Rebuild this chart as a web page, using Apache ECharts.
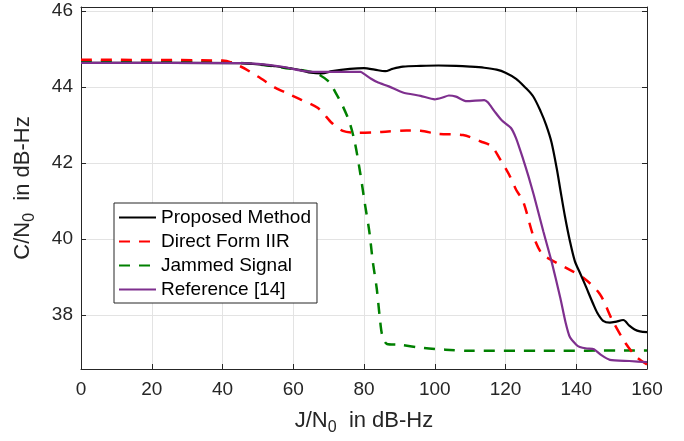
<!DOCTYPE html>
<html>
<head>
<meta charset="utf-8">
<script src="https://cdn.jsdelivr.net/npm/echarts@6/dist/echarts.min.js"></script>
<style>
html,body{margin:0;padding:0;background:#fff;}
#c{width:684px;height:441px;}
</style>
</head>
<body>
<div id="c"></div>
<script>
var seriesNames = ['Proposed Method', 'Direct Form IIR', 'Jammed Signal', 'Reference [14]'];
var xTicks = [0, 20, 40, 60, 80, 100, 120, 140, 160];
var yTicks = [38, 40, 42, 44, 46];

var proposedX = [0, 45, 55, 62, 65, 68, 71, 76, 80, 83, 86, 88, 91, 96, 101, 106, 110, 114, 117.5, 120, 123, 125.5, 127.8, 130, 131.5, 133, 134.5, 135.5, 136.8, 138.2, 139.6, 141, 142.5, 144.8, 146, 147.6, 149.5, 151, 153.3, 155, 156.5, 158, 160];
var proposedY = [44.64, 44.63, 44.55, 44.45, 44.38, 44.36, 44.42, 44.48, 44.5, 44.46, 44.42, 44.48, 44.54, 44.56, 44.57, 44.56, 44.54, 44.51, 44.46, 44.38, 44.22, 44.0, 43.76, 43.35, 43.0, 42.55, 41.85, 41.3, 40.6, 39.95, 39.42, 39.12, 38.8, 38.29, 38.05, 37.85, 37.8, 37.82, 37.87, 37.72, 37.62, 37.57, 37.55];

var iirX = [0, 40, 45, 50, 55, 58, 62, 67, 71, 74, 78, 85, 92, 96, 101, 108, 113, 116, 118.5, 121, 123, 125, 127.8, 130, 132, 137, 142, 146.7, 150, 154, 157, 160];
var iirY = [44.72, 44.7, 44.55, 44.28, 43.98, 43.85, 43.68, 43.45, 43.05, 42.85, 42.8, 42.82, 42.86, 42.85, 42.77, 42.74, 42.57, 42.45, 42.1, 41.7, 41.3, 40.99, 40.1, 39.65, 39.5, 39.25, 38.98, 38.55, 37.9, 37.25, 36.9, 36.7];

var jamX = [0, 40, 50, 58, 66, 70, 72, 74, 76, 77.5, 79, 80.3, 81.5, 82.5, 83.6, 84.5, 85.2, 86.5, 90, 97, 103, 110, 130, 160];
var jamY = [44.68, 44.66, 44.6, 44.5, 44.38, 44.15, 43.85, 43.5, 43.05, 42.5, 41.7, 40.9, 40.2, 39.4, 38.7, 37.9, 37.45, 37.24, 37.22, 37.13, 37.09, 37.06, 37.06, 37.07];

var refX = [0, 45, 56, 63, 67, 79, 80, 82, 84, 87, 91, 96, 100, 102, 104, 106, 109, 114, 115, 117, 119, 121.5, 123, 125, 126.5, 128, 130.7, 133, 135.5, 137, 138.2, 140, 141, 143, 145, 147, 149.5, 155, 160];
var refY = [44.64, 44.63, 44.55, 44.42, 44.4, 44.4, 44.35, 44.22, 44.12, 44.02, 43.86, 43.77, 43.68, 43.72, 43.78, 43.75, 43.63, 43.66, 43.6, 43.35, 43.12, 42.93, 42.65, 42.1, 41.65, 41.16, 40.2, 39.42, 38.45, 37.8, 37.42, 37.22, 37.16, 37.12, 37.1, 36.95, 36.82, 36.79, 36.76];

function pairs(xs, ys) { return xs.map(function (x, i) { return [x, ys[i]]; }); }

var axisColor = '#262626';
var gridColor = '#e3e3e3';
var font = 'Arial, "Liberation Sans", sans-serif';

var chart = echarts.init(document.getElementById('c'), null, { renderer: 'canvas' });
chart.setOption({
  animation: false,
  backgroundColor: '#ffffff',
  grid: { left: 81, right: 37, top: 7, bottom: 69, containLabel: false },
  legend: {
    orient: 'vertical',
    left: 114, top: 203,
    padding: [5, 6, 4, 4],
    itemWidth: 37, itemHeight: 14, itemGap: 5,
    backgroundColor: '#ffffff',
    borderColor: axisColor, borderWidth: 1, borderRadius: 0,
    itemStyle: { opacity: 0, borderWidth: 0 },
    textStyle: { fontFamily: font, fontSize: 19, color: '#000' },
    data: seriesNames
  },
  xAxis: [{
    type: 'value', min: 0, max: 160, interval: 20, position: 'bottom',
    name: 'J/N{sub|0}  in dB-Hz', nameLocation: 'middle', nameGap: 37,
    nameTextStyle: { fontFamily: font, fontSize: 22, color: axisColor,
      rich: { sub: { fontFamily: font, fontSize: 16, color: axisColor, verticalAlign: 'bottom', padding: [14, 0, 0, 0] } } },
    axisLine: { show: true, onZero: false, lineStyle: { color: axisColor, width: 1 } },
    axisTick: { show: true, inside: true, length: 5, lineStyle: { color: axisColor } },
    axisLabel: { fontFamily: font, fontSize: 19, color: axisColor, margin: 11 },
    splitLine: { show: true, lineStyle: { color: gridColor, width: 1 } }
  }, {
    type: 'value', min: 0, max: 160, interval: 20, position: 'top',
    axisLine: { show: true, onZero: false, lineStyle: { color: axisColor, width: 1 } },
    axisTick: { show: true, inside: true, length: 5, lineStyle: { color: axisColor } },
    axisLabel: { show: false },
    splitLine: { show: false }
  }],
  yAxis: [{
    type: 'value', min: 36.58, max: 46.11, position: 'left',
    name: 'C/N{sub|0}  in dB-Hz', nameLocation: 'middle', nameGap: 43, nameRotate: 90,
    nameTextStyle: { fontFamily: font, fontSize: 22, color: axisColor,
      rich: { sub: { fontFamily: font, fontSize: 16, color: axisColor, verticalAlign: 'bottom', padding: [14, 0, 0, 0] } } },
    axisLine: { show: true, onZero: false, lineStyle: { color: axisColor, width: 1 } },
    axisTick: { show: true, inside: true, length: 5, lineStyle: { color: axisColor }, customValues: yTicks },
    axisLabel: { fontFamily: font, fontSize: 19, color: axisColor, margin: 8, customValues: yTicks },
    splitLine: { show: true, lineStyle: { color: gridColor, width: 1 } }
  }, {
    type: 'value', min: 36.58, max: 46.11, position: 'right',
    axisLine: { show: true, onZero: false, lineStyle: { color: axisColor, width: 1 } },
    axisTick: { show: true, inside: true, length: 5, lineStyle: { color: axisColor }, customValues: yTicks },
    axisLabel: { show: false },
    splitLine: { show: false }
  }],
  series: [
    { name: seriesNames[0], type: 'line', data: pairs(proposedX, proposedY), symbol: 'none', smooth: 0.3, z: 5,
      lineStyle: { color: '#000000', width: 2.2 }, itemStyle: { color: '#000000' } },
    { name: seriesNames[1], type: 'line', data: pairs(iirX, iirY), symbol: 'none', smooth: 0.3, z: 4,
      lineStyle: { color: '#ff0000', width: 2.5, type: [11, 9] }, itemStyle: { color: '#ff0000' } },
    { name: seriesNames[2], type: 'line', data: pairs(jamX, jamY), symbol: 'none', smooth: 0.3, z: 3,
      lineStyle: { color: '#008000', width: 2.5, type: [11, 9] }, itemStyle: { color: '#008000' } },
    { name: seriesNames[3], type: 'line', data: pairs(refX, refY), symbol: 'none', smooth: 0.2, z: 6,
      lineStyle: { color: '#7e2f8e', width: 2.2 }, itemStyle: { color: '#7e2f8e' } }
  ]
});
</script>
</body>
</html>
